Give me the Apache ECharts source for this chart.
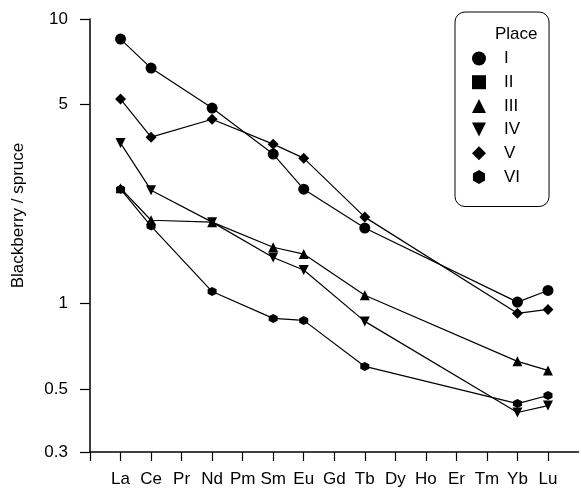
<!DOCTYPE html>
<html>
<head>
<meta charset="utf-8">
<script src="https://cdn.jsdelivr.net/npm/echarts@6/dist/echarts.min.js"></script>
<style>
  html, body { margin: 0; padding: 0; background: #fff; }
  #main { width: 581px; height: 489px; }
</style>
</head>
<body>
<div id="main"></div>
<script>
// element order along the x axis (position 0 is the y axis, elements start at 1)
const elements = ['La', 'Ce', 'Pr', 'Nd', 'Pm', 'Sm', 'Eu', 'Gd', 'Tb', 'Dy', 'Ho', 'Er', 'Tm', 'Yb', 'Lu']
const yTicks = [0.3, 0.5, 1, 5, 10]

const placeI = [8.5, 6.72, null, 4.86, null, 3.35, 2.52, null, 1.84, null, null, null, null, 1.01, 1.11]
const placeII = [null, null, null, null, null, null, null, null, null, null, null, null, null, null, null]
const placeIII = [2.54, 1.96, null, 1.93, null, 1.575, 1.49, null, 1.067, null, null, null, null, 0.625, 0.581]
const placeIV = [3.66, 2.5, null, 1.93, null, 1.45, 1.31, null, 0.864, null, null, null, null, 0.413, 0.437]
const placeV = [5.23, 3.84, null, 4.44, null, 3.63, 3.24, null, 2.01, null, null, null, null, 0.922, 0.952]
const placeVI = [2.52, 1.87, null, 1.1, null, 0.885, 0.871, null, 0.6, null, null, null, null, 0.444, 0.474]

const downTri = 'path://M0,0 L10,0 L5,10 Z'
const hexagon = 'path://M5,0 L9.33,2.5 L9.33,7.5 L5,10 L0.67,7.5 L0.67,2.5 Z'

const mk = (name, vals, symbol, size) => ({
  name: name,
  type: 'line',
  data: vals.map((v, i) => [i + 1, v]),
  connectNulls: true,
  symbol: symbol,
  symbolSize: size,
  showAllSymbol: true,
  lineStyle: { color: '#000', width: 1.2 },
  itemStyle: { color: '#000' },
})

const myChart = echarts.init(document.getElementById('main'))
const font = 'Liberation Sans, Arial, sans-serif'
const option = {
  animation: false,
  textStyle: { fontFamily: font },
  grid: { left: 90, top: 19, right: 2.5, bottom: 37, containLabel: false, outerBoundsMode: 'none' },
  title: {
    text: 'Place',
    left: 490,
    top: 21,
    textStyle: { fontSize: 17, fontWeight: 'normal', color: '#000', fontFamily: font },
  },
  legend: {
    orient: 'vertical',
    left: 455,
    top: 12,
    padding: [38, 29, 21, 17],
    itemGap: 6.7,
    itemWidth: 14,
    itemHeight: 14,
    borderColor: '#000',
    borderWidth: 1,
    borderRadius: 10,
    textStyle: { fontSize: 17, color: '#000', fontFamily: font, padding: [0, 0, 0, 13] },
    data: [
      { name: 'I', icon: 'circle' },
      { name: 'II', icon: 'rect' },
      { name: 'III', icon: 'triangle' },
      { name: 'IV', icon: downTri },
      { name: 'V', icon: 'diamond' },
      { name: 'VI', icon: hexagon },
    ],
  },
  xAxis: {
    type: 'value',
    min: 0,
    max: 16,
    interval: 1,
    splitLine: { show: false },
    axisLine: { show: true, lineStyle: { color: '#000', width: 1.5 } },
    axisTick: {
      show: true,
      length: 9,
      lineStyle: { color: '#000', width: 1.2 },
      customValues: [0, 1, 2, 3, 4, 5, 6, 7, 8, 9, 10, 11, 12, 13, 14, 15],
    },
    axisLabel: {
      color: '#000',
      fontSize: 17,
      margin: 19,
      customValues: elements.map((e, i) => i + 1),
      formatter: (v) => elements[v - 1] || '',
    },
  },
  yAxis: {
    type: 'log',
    logBase: 10,
    min: 0.3,
    max: 10,
    name: 'Blackberry / spruce',
    nameLocation: 'middle',
    nameGap: 63,
    nameTextStyle: { fontSize: 17, color: '#000', fontFamily: font, padding: [0, 0, 0, 40] },
    splitLine: { show: false },
    axisLine: { show: true, lineStyle: { color: '#000', width: 1.5 } },
    axisTick: {
      show: true,
      length: 10,
      lineStyle: { color: '#000', width: 1.2 },
      customValues: yTicks,
    },
    axisLabel: {
      color: '#000',
      fontSize: 17,
      margin: 22,
      customValues: yTicks,
    },
  },
  series: [
    mk('I', placeI, 'circle', 11),
    mk('II', placeII, 'rect', 9),
    mk('III', placeIII, 'triangle', 10),
    mk('IV', placeIV, downTri, 10),
    mk('V', placeV, 'diamond', 11),
    mk('VI', placeVI, hexagon, 9),
  ],
}
myChart.setOption(option)
</script>
</body>
</html>
